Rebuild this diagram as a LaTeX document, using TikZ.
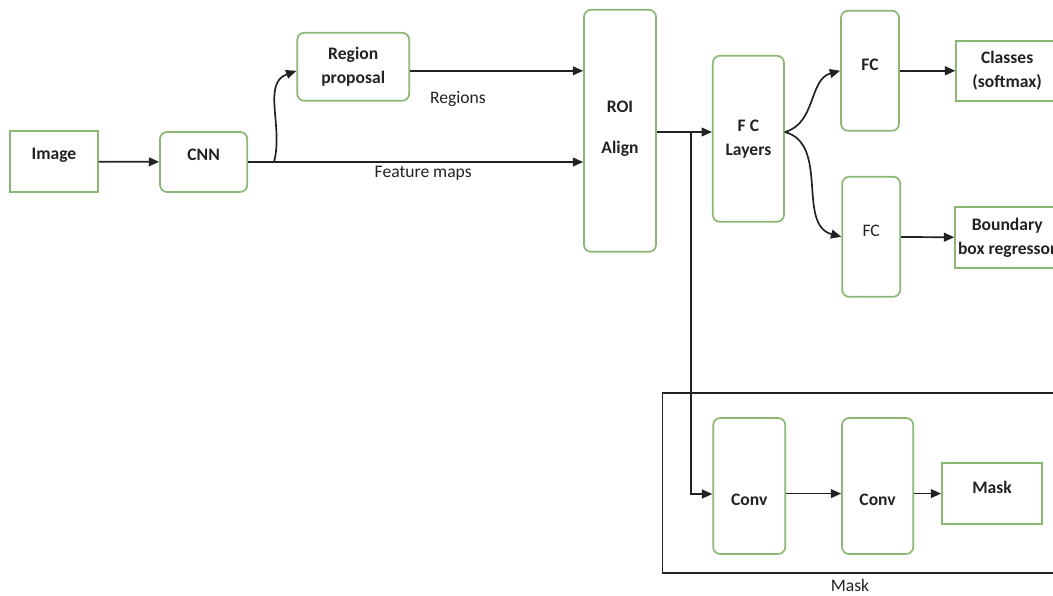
\documentclass[tikz,border=0pt]{standalone}
\usepackage{fontspec}
\setmainfont{Carlito}
\usepackage{xcolor}
\usepackage{tikz}
\usetikzlibrary{arrows.meta, positioning}
\definecolor{boxgreen}{HTML}{8AB873}
\definecolor{ink}{HTML}{222222}
\newcommand{\liftby}[2]{\raisebox{#1}[\height][\depth]{#2}}
\tikzset{
  layer/.style={rectangle, rounded corners=5pt, draw=boxgreen, line width=1.2pt, align=center, font=\fontsize{12.5}{17}\selectfont\bfseries, text=ink, inner sep=2pt},
  io/.style={rectangle, draw=boxgreen, line width=1.2pt, align=center, font=\fontsize{12.5}{17}\selectfont\bfseries, text=ink, inner sep=2pt},
  tag/.style={font=\fontsize{12.5}{17}\selectfont, text=ink, inner sep=1pt},
  arr/.style={-{Triangle[length=2.6mm, width=2.2mm]}, line width=1.2pt, ink},
}
\begin{document}
\begin{tikzpicture}[font=\fontsize{12.5}{17}\selectfont]
\useasboundingbox (0,0) rectangle (26.325,14.9);
% ---- backbone ----
\node[io, minimum width=2.2cm, minimum height=1.525cm] (img) at (1.35,10.86) {\liftby{0.15cm}{Image}};
\node[layer, minimum width=2.18cm, minimum height=1.5cm] (cnn) at (5.09,10.85) {\liftby{0.17cm}{CNN}};
\node[layer, minimum width=2.8cm, minimum height=1.7cm] (rp) at (8.83,13.23) {Region\\ proposal};
\node[layer, minimum width=1.8cm, minimum height=6.05cm] (roi) at (15.5,11.63) {\liftby{0.12cm}{ROI}\\[0.3cm] Align};
\node[layer, minimum width=1.78cm, minimum height=4.15cm] (fcl) at (18.71,11.43) {F C\\ Layers};
% ---- heads ----
\node[layer, minimum width=1.45cm, minimum height=3.0cm] (fca) at (21.75,13.13) {\liftby{0.15cm}{FC}};
\node[layer, minimum width=1.45cm, minimum height=3.0cm, font=\fontsize{12.5}{17}\selectfont] (fcb) at (21.78,8.98) {\liftby{0.15cm}{FC}};
\node[io, minimum width=2.55cm, minimum height=1.5cm] (cls) at (25.18,13.13) {Classes\\ (softmax)};
\node[io, minimum width=2.55cm, minimum height=1.525cm] (bbr) at (25.18,8.96) {Boundary\\ box regressor};
% ---- mask branch ----
\node[draw=ink, line width=0.9pt, minimum width=9.95cm, minimum height=4.5cm, inner sep=0pt] (maskframe) at (21.53,2.825) {};
\node[tag] (masktag) at (21.25,0.26) {Mask};
\node[layer, minimum width=1.8cm, minimum height=3.4cm] (conva) at (18.73,2.75) {\liftby{-0.35cm}{Conv}};
\node[layer, minimum width=1.78cm, minimum height=3.4cm] (convb) at (21.94,2.75) {\liftby{-0.35cm}{Conv}};
\node[io, minimum width=2.5cm, minimum height=1.525cm] (mask) at (24.8,2.56) {\liftby{0.15cm}{Mask}};
% ---- connectors ----
\coordinate (split) at (6.85,10.85);
\coordinate (tap) at (17.28,11.6);
\draw[arr] (img) -- (cnn);
\draw[arr] (cnn.east) -- (cnn.east -| roi.west);
\draw[arr] (split) to[out=75, in=200] ([yshift=-0.1cm]rp.west);
\draw[arr] ([yshift=-0.1cm]rp.east) -- ([yshift=-0.1cm]rp.east -| roi.west);
\node[tag] (regtag) at (11.45,12.43) {Regions};
\node[tag] (feattag) at (10.58,10.58) {Feature maps};
\draw[arr] (roi.east |- tap) -- (fcl.west |- tap);
\draw[arr] (tap) |- ([yshift=-0.2cm]conva.west);
\draw[arr] ([yshift=0.17cm]fcl.east) to[out=15, in=195] (fca.west);
\draw[arr] ([yshift=0.17cm]fcl.east) to[out=-15, in=165] (fcb.west);
\draw[arr] (fca) -- (cls);
\draw[arr] (fcb) -- (bbr);
\draw[arr] (conva.east |- mask.west) -- (convb.west |- mask.west);
\draw[arr] (convb.east |- mask.west) -- (mask.west);
\end{tikzpicture}
\end{document}
